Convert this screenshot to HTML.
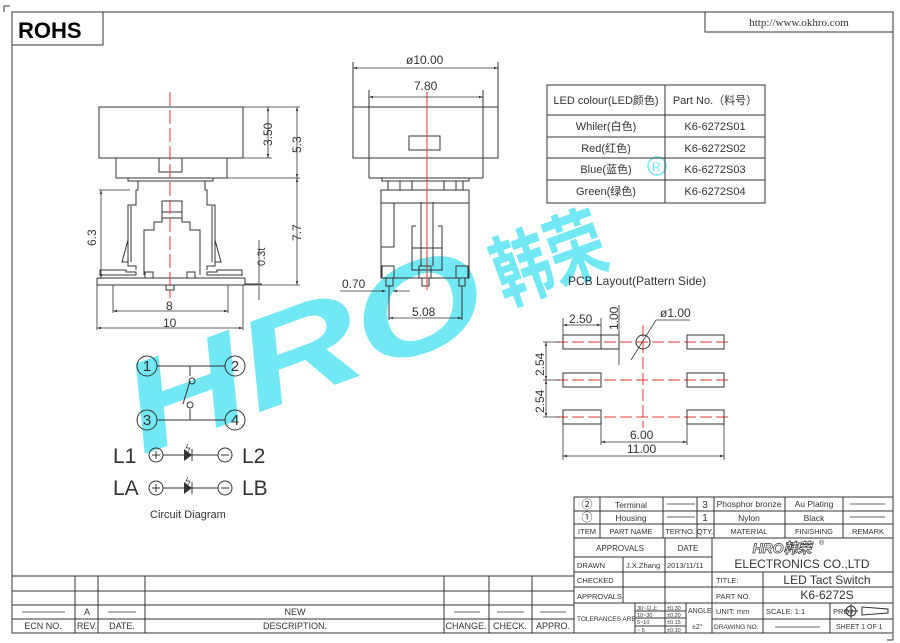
<!DOCTYPE html>
<html><head><meta charset="utf-8"><style>
html,body{margin:0;padding:0;background:#fff;}
svg{display:block;}
text{font-family:"Liberation Sans","Noto Sans CJK SC",sans-serif;fill:#333;}
</style></head><body>
<svg width="900" height="643" viewBox="0 0 900 643" xmlns="http://www.w3.org/2000/svg">
<defs>
<marker id="a" viewBox="0 0 10 10" refX="10" refY="5" markerWidth="7" markerHeight="5" orient="auto-start-reverse"><path d="M0,2 L10,5 L0,8 z" fill="#333"/></marker>
</defs>
<!-- watermark -->
<g opacity="0.9">
<text x="142" y="455" transform="rotate(-20 142 455)" font-size="128" font-weight="bold" font-style="italic" textLength="375" lengthAdjust="spacingAndGlyphs" style="fill:#62e6f2">HRO</text>
<text x="505" y="305" transform="rotate(-20 505 305)" font-size="80" font-weight="bold" textLength="115" lengthAdjust="spacingAndGlyphs" style="fill:#62e6f2">韩荣</text>
<circle cx="657" cy="166" r="9" fill="none" stroke="#62e6f2" stroke-width="1.5"/>
<text x="652" y="171" font-size="12" style="fill:#62e6f2">R</text>
</g>
<g stroke="#333" stroke-width="1" fill="none">
<rect x="12" y="12" width="881" height="621"/>
<path d="M4,12 V6 H10 M893,634 V640 H887"/>
<rect x="12" y="12" width="91" height="33"/>
<rect x="705" y="12" width="188" height="20"/>
<rect x="99" y="107" width="144" height="51"/>
<rect x="116" y="158" width="111" height="20"/>
<rect x="159" y="158" width="23" height="14"/>
<path d="M128,178 V181 H213 V178"/>
<path d="M138,181 V190 M205,181 V190"/>
<path d="M138,190 H136 V205 H128 V266 H136 V270 M205,190 H207 V205 H215 V266 H207 V270"/>
<path d="M131,206 V262 M212,206 V262"/>
<path d="M128,240 L122,262 H128 M215,240 L221,262 H215"/>
<path d="M162,201 H182 V222 H190 V230 H200 V275 M162,201 V222 H154 V230 H144 V275"/>
<path d="M162,212 H182 M162,218 H182"/>
<path d="M100,276 V270 H126 V272 H136 V275 H100 M242,276 V270 H217 V272 H207 V275 H242"/>
<path d="M97,278 H245 M97,285 H245 M97,278 V285 M245,278 V285"/>
<rect x="145" y="272" width="8" height="6"/><rect x="187" y="272" width="8" height="6"/>
<path d="M166,285 V290 H174 V285"/>
<path d="M245,284 H262"/>
</g>
<line x1="170" y1="92" x2="170" y2="298" stroke="#e33" stroke-width="1" stroke-dasharray="14,4"/>
<g stroke="#333" stroke-width="0.8" fill="none">
<path d="M243,107 H300 M243,158 H272 M227,178 H300 M245,285 H300 M99,190 H130 M97,278 H104"/>
<line x1="268" y1="107" x2="268" y2="158" marker-start="url(#a)" marker-end="url(#a)"/>
<line x1="297" y1="107" x2="297" y2="178" marker-start="url(#a)" marker-end="url(#a)"/>
<line x1="297" y1="178" x2="297" y2="285" marker-start="url(#a)" marker-end="url(#a)"/>
<line x1="101" y1="190" x2="101" y2="278" marker-start="url(#a)" marker-end="url(#a)"/>
<path d="M259,240 V284 M259,286 V300"/>
<path d="M113,285 V313 M228,285 V313 M97,285 V330 M243,285 V330"/>
<line x1="113" y1="311" x2="228" y2="311" marker-start="url(#a)" marker-end="url(#a)"/>
<line x1="97" y1="328" x2="243" y2="328" marker-start="url(#a)" marker-end="url(#a)"/>
</g>
<g font-size="12">
<text x="0" y="0" transform="translate(272,146) rotate(-90)">3.50</text>
<text x="0" y="0" transform="translate(301,153) rotate(-90)">5.3</text>
<text x="0" y="0" transform="translate(301,241) rotate(-90)">7.7</text>
<text x="0" y="0" transform="translate(96,246) rotate(-90)">6.3</text>
<text x="0" y="0" transform="translate(265,266) rotate(-90)" font-size="11">0.3t</text>
<text x="166" y="310">8</text>
<text x="163" y="327">10</text>
</g>
<g stroke="#333" stroke-width="1" fill="none">
<rect x="353" y="107" width="145" height="51"/>
<path d="M369,107 V178 M483,107 V178 M369,178 H483 M353,107 V62 M498,107 V62 M369,107 V90 M483,107 V90"/>
<rect x="409" y="136" width="31" height="14"/>
<path d="M382,178 V181 H469 V178 M388,181 V190 H400 V181 M412,181 V190 H444 V181 M456,181 V190 H463 V181"/>
<rect x="381" y="190" width="88" height="88"/>
<path d="M381,203 H469 M394,203 V247 H381"/>
<path d="M421,202 V266 M433,202 V266 M412,226 V270 H442 V226 M412,226 H416 M442,226 H438 M412,248 H442"/>
<rect x="382" y="266" width="12" height="12"/><rect x="419" y="266" width="12" height="12"/><rect x="456" y="266" width="12" height="12"/>
<rect x="386" y="278" width="7" height="8"/><rect x="422" y="278" width="7" height="8"/><rect x="459" y="278" width="6" height="8"/>
<path d="M389,286 V320 M462,286 V320"/>
</g>
<line x1="427" y1="92" x2="427" y2="290" stroke="#e33" stroke-width="1"/>
<g stroke="#333" stroke-width="0.8" fill="none">
<line x1="353" y1="68" x2="498" y2="68" marker-start="url(#a)" marker-end="url(#a)"/>
<line x1="369" y1="97" x2="483" y2="97" marker-start="url(#a)" marker-end="url(#a)"/>
<line x1="389" y1="318" x2="462" y2="318" marker-start="url(#a)" marker-end="url(#a)"/>
<line x1="340" y1="291" x2="386" y2="291" marker-end="url(#a)"/>
<line x1="410" y1="291" x2="393" y2="291" marker-end="url(#a)"/>
</g>
<g font-size="12">
<text x="406" y="64">ø10.00</text>
<text x="414" y="90">7.80</text>
<text x="342" y="288">0.70</text>
<text x="412" y="316">5.08</text>
</g>
<g stroke="#333" stroke-width="1" fill="none">
<rect x="547" y="85" width="218" height="118"/>
<path d="M665,85 V203 M547,115 H765 M547,137 H765 M547,158 H765 M547,180 H765"/>
</g>
<g font-size="11" text-anchor="middle">
<text x="606" y="104">LED colour(LED颜色)</text><text x="715" y="104">Part No.（料号）</text>
<text x="606" y="130">Whiler(白色)</text><text x="715" y="130">K6-6272S01</text>
<text x="606" y="152">Red(红色)</text><text x="715" y="152">K6-6272S02</text>
<text x="606" y="173">Blue(蓝色)</text><text x="715" y="173">K6-6272S03</text>
<text x="606" y="195">Green(绿色)</text><text x="715" y="195">K6-6272S04</text>
</g>
<g stroke="#e33" stroke-width="1" stroke-dasharray="12,4">
<path d="M556,342 H732 M556,380 H732 M556,417 H732"/>
<path d="M643,325 V428"/>
</g>
<g stroke="#333" stroke-width="1" fill="none">
<rect x="563" y="335" width="38" height="14"/><rect x="601" y="335" width="18" height="14"/><rect x="687" y="335" width="37" height="14"/>
<rect x="563" y="373" width="38" height="14"/><rect x="687" y="373" width="37" height="14"/>
<rect x="563" y="410" width="38" height="14"/><rect x="687" y="410" width="37" height="14"/>
<circle cx="643" cy="342" r="7"/>
</g>
<g stroke="#333" stroke-width="0.8" fill="none">
<path d="M563,335 V318 M601,335 V318 M619,305 V365 M543,342 H560 M543,380 H560 M543,417 H560 M601,424 V445 M687,424 V445 M563,424 V460 M724,424 V460 M631,360 L656,320 H690"/>
<line x1="563" y1="325" x2="601" y2="325" marker-start="url(#a)" marker-end="url(#a)"/>
<line x1="546" y1="342" x2="546" y2="380" marker-start="url(#a)" marker-end="url(#a)"/>
<line x1="546" y1="380" x2="546" y2="417" marker-start="url(#a)" marker-end="url(#a)"/>
<line x1="601" y1="442" x2="687" y2="442" marker-start="url(#a)" marker-end="url(#a)"/>
<line x1="563" y1="456" x2="724" y2="456" marker-start="url(#a)" marker-end="url(#a)"/>
</g>
<g font-size="12">
<text x="568" y="285">PCB Layout(Pattern Side)</text>
<text x="569" y="323">2.50</text>
<text x="0" y="0" transform="translate(618,330) rotate(-90)">1.00</text>
<text x="660" y="317">ø1.00</text>
<text x="0" y="0" transform="translate(544,376) rotate(-90)">2.54</text>
<text x="0" y="0" transform="translate(544,413) rotate(-90)">2.54</text>
<text x="630" y="439">6.00</text>
<text x="627" y="453">11.00</text>
</g>
<g stroke="#333" stroke-width="1" fill="none">
<circle cx="147" cy="366" r="10"/><circle cx="235" cy="366" r="10"/><circle cx="147" cy="420" r="10"/><circle cx="235" cy="420" r="10"/>
<path d="M157,366 H225 M190,366 V376 M157,420 H225 M190,420 V409"/>
<circle cx="192" cy="381" r="3"/><circle cx="190" cy="405" r="3"/>
<path d="M190,381 L183,404"/>
<circle cx="156" cy="455" r="7"/><circle cx="225" cy="455" r="7"/>
<circle cx="156" cy="488" r="7"/><circle cx="225" cy="488" r="7"/>
<path d="M163,455 H218 M163,488 H218 M192,449 V461 M192,482 V494 M152,455 H160 M156,451 V459 M221,455 H229 M152,488 H160 M156,484 V492 M221,488 H229"/>
<path d="M188,444 L186,448 H190 L188,452 M188,477 L186,481 H190 L188,485" stroke-width="0.7"/>
</g>
<path d="M184,449 L192,455 L184,461 z M184,482 L192,488 L184,494 z" fill="#333"/>
<g font-size="15" text-anchor="middle">
<text x="147" y="371">1</text><text x="235" y="371">2</text><text x="147" y="425">3</text><text x="235" y="425">4</text>
</g>
<g font-size="21">
<text x="113" y="463">L1</text><text x="242" y="463">L2</text>
<text x="113" y="495">LA</text><text x="242" y="495">LB</text>
</g>
<text x="150" y="518" font-size="11">Circuit Diagram</text>
<g stroke="#333" stroke-width="1" fill="none">
<path d="M12,576 H574 M12,591 H574 M12,605 H574 M12,619 H574"/>
<path d="M75,576 V633 M98,576 V633 M145,576 V633 M444,576 V633 M489,576 V633 M532,576 V633 M574,497 V633"/>
<path d="M22,612 H65 M108,612 H136 M454,612 H480 M497,612 H524 M540,612 H566" stroke-width="0.8"/>
</g>
<g font-size="9" text-anchor="middle">
<text x="87" y="615">A</text><text x="295" y="615">NEW</text>
<text x="43" y="629">ECN NO.</text><text x="87" y="629">REV.</text><text x="122" y="629">DATE.</text><text x="295" y="629">DESCRIPTION.</text>
<text x="466" y="629">CHANGE.</text><text x="510" y="629">CHECK.</text><text x="553" y="629">APPRO.</text>
</g>
<g stroke="#333" stroke-width="1" fill="none">
<path d="M574,497 H893 M574,511 H893 M574,524 H893 M574,538 H893 M574,557 H712 M574,572 H893 M574,587 H893 M574,603 H893 M712,619 H893"/>
<path d="M600,497 V538 M663,497 V538 M697,497 V538 M714,497 V538 M785,497 V538 M843,497 V538"/>
<path d="M665,538 V619 M623,557 V603 M712,538 V633 M763,572 V633 M830,603 V633"/>
<path d="M635,603 V633 M665,603 V633 M686,603 V633 M635,611 H686 M635,618 H686 M635,626 H686"/>
<path d="M667,504 H695 M667,517 H695 M850,504 H885 M850,517 H885 M775,627 H820" stroke-width="0.8"/>
<circle cx="851" cy="611" r="5"/><path d="M844,611 H858 M851,604 V618 M862,607 V615 L888,613 V609 z"/>
</g>
<g font-size="8.5">
<text x="587" y="508" text-anchor="middle" font-size="11">②</text><text x="587" y="521" text-anchor="middle" font-size="11">①</text>
<text x="631" y="508" text-anchor="middle">Terminal</text><text x="631" y="521" text-anchor="middle">Housing</text>
<text x="705" y="508" text-anchor="middle" font-size="10">3</text><text x="705" y="521" text-anchor="middle" font-size="10">1</text>
<text x="749" y="507" text-anchor="middle">Phosphor bronze</text><text x="749" y="521" text-anchor="middle">Nylon</text>
<text x="814" y="507" text-anchor="middle">Au Plating</text><text x="814" y="521" text-anchor="middle">Black</text>
<text x="587" y="534" text-anchor="middle" font-size="7.5">ITEM</text><text x="631" y="534" text-anchor="middle" font-size="7.5">PART NAME</text>
<text x="680" y="534" text-anchor="middle" font-size="7.5">TER'NO.</text><text x="705" y="534" text-anchor="middle" font-size="7.5">QTY.</text>
<text x="749" y="534" text-anchor="middle" font-size="7.5">MATERIAL</text><text x="814" y="534" text-anchor="middle" font-size="7.5">FINISHING</text><text x="868" y="534" text-anchor="middle" font-size="7.5">REMARK</text>
<text x="620" y="551" text-anchor="middle" font-size="8">APPROVALS</text><text x="688" y="551" text-anchor="middle" font-size="8">DATE</text>
<text x="577" y="568" font-size="7.5">DRAWN</text><text x="626" y="568" font-size="7.5">J.X.Zhang</text><text x="667" y="568" font-size="7.5">2013/11/11</text>
<text x="577" y="583" font-size="7.5">CHECKED</text><text x="577" y="599" font-size="7.5">APPROVALS</text>
<text x="577" y="621" font-size="6.5">TOLERANCES ARE</text>
<text x="637" y="610" font-size="5.5">30~以上</text><text x="667" y="610" font-size="5.5">±0.30</text>
<text x="637" y="617" font-size="5.5">10~30</text><text x="667" y="617" font-size="5.5">±0.20</text>
<text x="637" y="624" font-size="5.5">5~10</text><text x="667" y="624" font-size="5.5">±0.15</text>
<text x="637" y="632" font-size="5.5">~ 5</text><text x="667" y="632" font-size="5.5">±0.10</text>
<text x="688" y="613" font-size="7">ANGLE</text><text x="692" y="629" font-size="7">±2°</text>
<text x="716" y="583" font-size="7.5">TITLE:</text><text x="716" y="599" font-size="7.5">PART NO.</text>
<text x="716" y="614" font-size="7.5">UNIT: mm</text><text x="766" y="614" font-size="7.5">SCALE: 1:1</text>
<text x="833" y="614" font-size="7.5">PROJ</text>
<text x="714" y="629" font-size="6.5">DRAWING NO.</text><text x="836" y="629" font-size="7">SHEET 1 OF 1</text>
<text x="782" y="553" font-size="14" font-weight="bold" font-style="italic" text-anchor="middle" style="fill:#fff;stroke:#333;stroke-width:0.7">HRO韩荣</text>
<text x="819" y="545" font-size="7">®</text>
<text x="802" y="568" font-size="12" text-anchor="middle">ELECTRONICS CO.,LTD</text>
<text x="827" y="584" font-size="12" text-anchor="middle">LED Tact Switch</text>
<text x="827" y="599" font-size="12" text-anchor="middle">K6-6272S</text>
</g>
<text x="18" y="38" font-size="22" font-weight="bold" style="fill:#000">ROHS</text>
<text x="799" y="26" font-size="11" text-anchor="middle" style="font-family:'Liberation Serif',serif">http://www.okhro.com</text>
</svg>
</body></html>
